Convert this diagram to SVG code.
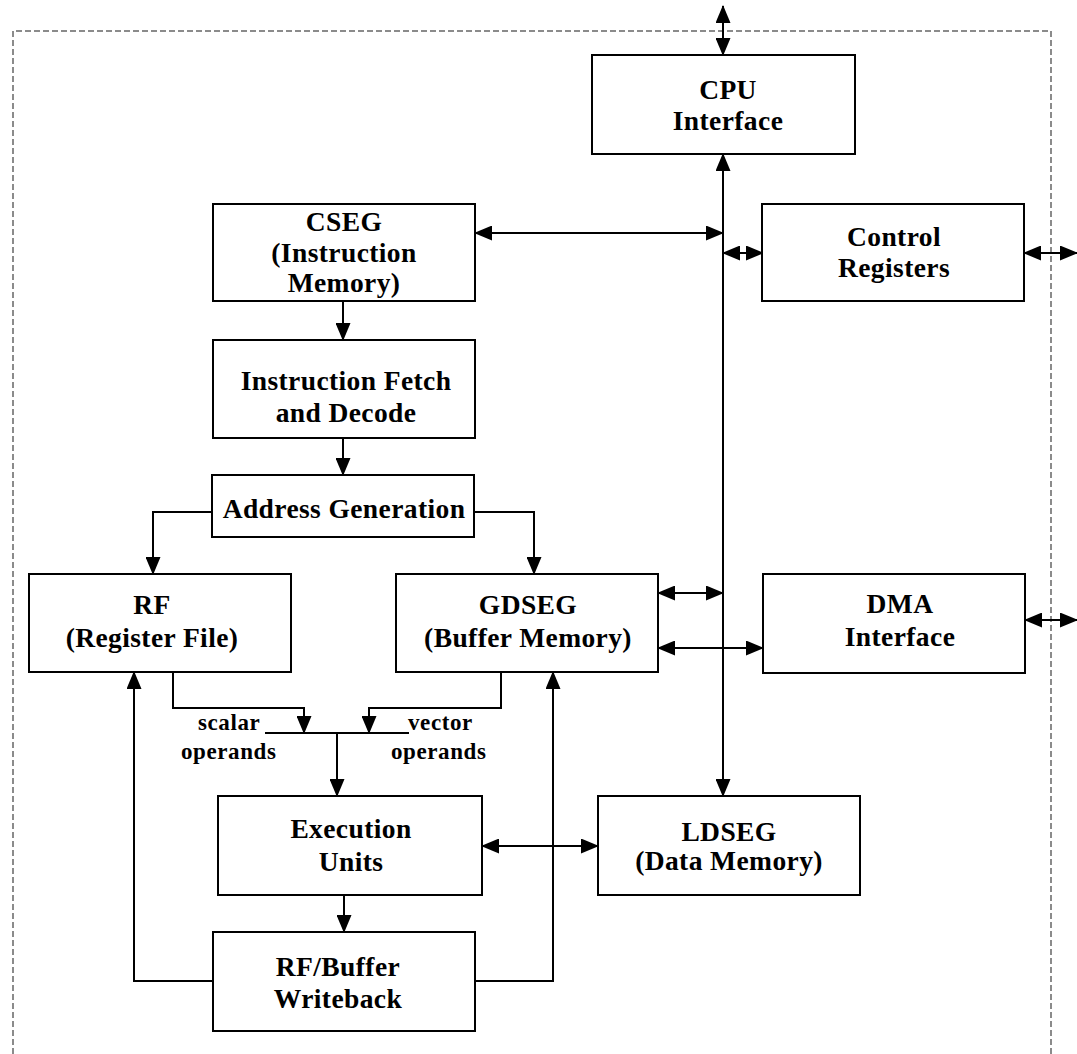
<svg xmlns="http://www.w3.org/2000/svg" width="1077" height="1054" viewBox="0 0 1077 1054">
<style>
.box{fill:#fff;stroke:#000;stroke-width:2}
.t{font-family:"Liberation Serif","Times New Roman",serif;font-weight:bold;font-size:27.5px;letter-spacing:0.4px;text-anchor:middle;fill:#000}
.s{font-family:"Liberation Serif","Times New Roman",serif;font-weight:bold;font-size:23px;letter-spacing:0.6px;fill:#000}
.c{fill:none;stroke:#000;stroke-width:2}
.b{fill:none;stroke:#000;stroke-width:2;marker-end:url(#ah)}
.d{fill:none;stroke:#000;stroke-width:2;marker-start:url(#ah);marker-end:url(#ah)}
</style>
<defs>
<marker id="ah" viewBox="0 0 18 15" refX="17" refY="7.5" markerWidth="18" markerHeight="15" markerUnits="userSpaceOnUse" orient="auto-start-reverse">
<path d="M0,0 L18,7.5 L0,15 z" fill="#000"/>
</marker>
</defs>
<rect width="1077" height="1054" fill="#fff"/>
<path d="M13,1054 V31 H1051 V1054" fill="none" stroke="#666" stroke-width="1.5" stroke-dasharray="6,3"/>
<g id="connectors">
<path class="d" d="M723,6 V55"/>
<path class="d" d="M723,154 V796"/>
<path class="d" d="M475,233 H723"/>
<path class="d" d="M723,253 H763"/>
<path class="d" d="M1024,253 H1077"/>
<path class="d" d="M658,593 H723"/>
<path class="d" d="M658,648 H763"/>
<path class="d" d="M1025,620 H1077"/>
<path class="d" d="M482,846 H598"/>
<path class="b" d="M343,301 V340"/>
<path class="b" d="M343,438 V475"/>
<path class="b" d="M212,512 H153 V574"/>
<path class="b" d="M474,512 H534 V574"/>
<path class="b" d="M173,672 V708 H304 V733"/>
<path class="b" d="M501,672 V708 H369 V733"/>
<path class="c" d="M265,733 H409"/>
<path class="b" d="M337,733 V796"/>
<path class="b" d="M344,895 V932"/>
<path class="b" d="M213,981 H134 V672"/>
<path class="b" d="M475,981 H553 V672"/>
</g>
<g id="cpu"><rect class="box" x="592" y="55" width="263" height="99"/><text class="t" x="728" y="99">CPU</text><text class="t" x="728" y="130">Interface</text></g>
<g id="cseg"><rect class="box" x="213" y="204" width="262" height="97"/><text class="t" x="344" y="231">CSEG</text><text class="t" x="344" y="262">(Instruction</text><text class="t" x="344" y="292">Memory)</text></g>
<g id="ctrl"><rect class="box" x="762" y="204" width="262" height="97"/><text class="t" x="894" y="246">Control</text><text class="t" x="894" y="277">Registers</text></g>
<g id="ifd"><rect class="box" x="213" y="340" width="262" height="98"/><text class="t" x="346" y="390">Instruction Fetch</text><text class="t" x="346" y="422">and Decode</text></g>
<g id="ag"><rect class="box" x="212" y="475" width="262" height="62"/><text class="t" x="344" y="518">Address Generation</text></g>
<g id="rf"><rect class="box" x="29" y="574" width="262" height="98"/><text class="t" x="152" y="614">RF</text><text class="t" x="152" y="647">(Register File)</text></g>
<g id="gdseg"><rect class="box" x="396" y="574" width="262" height="98"/><text class="t" x="528" y="614">GDSEG</text><text class="t" x="528" y="647">(Buffer Memory)</text></g>
<g id="dma"><rect class="box" x="763" y="574" width="262" height="99"/><text class="t" x="900" y="613">DMA</text><text class="t" x="900" y="646">Interface</text></g>
<g id="labels"><text class="s" x="198" y="730">scalar</text><text class="s" x="181" y="759">operands</text><text class="s" x="408" y="730">vector</text><text class="s" x="391" y="759">operands</text></g>
<g id="exec"><rect class="box" x="218" y="796" width="264" height="99"/><text class="t" x="351" y="838">Execution</text><text class="t" x="351" y="871">Units</text></g>
<g id="ldseg"><rect class="box" x="598" y="796" width="262" height="99"/><text class="t" x="729" y="841">LDSEG</text><text class="t" x="729" y="870">(Data Memory)</text></g>
<g id="wb"><rect class="box" x="213" y="932" width="262" height="99"/><text class="t" x="338" y="976">RF/Buffer</text><text class="t" x="338" y="1008">Writeback</text></g>
</svg>
